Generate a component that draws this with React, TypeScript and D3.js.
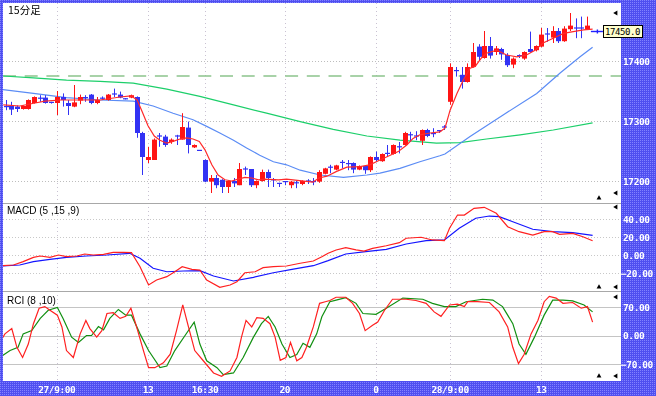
import { useEffect, useRef } from "react";
import * as d3 from "d3";

const W = 656;
const H = 396;
const PL = 3;
const PR = 621;
const PANELS = {
  main: { top: 3, bottom: 203 },
  macd: { top: 203, bottom: 291 },
  rci: { top: 291, bottom: 381 },
};

// 15 min candles, [open, high, low, close]
const candles: number[][] = [
  [17325, 17335, 17318, 17323], [17325, 17332, 17310, 17319], [17324, 17326, 17315, 17320],
  [17320, 17326, 17319, 17325], [17320, 17336, 17319, 17335], [17330, 17341, 17329, 17340],
  [17339, 17343, 17332, 17337], [17339, 17343, 17329, 17330], [17331, 17332, 17329, 17330],
  [17330, 17350, 17310, 17340], [17340, 17346, 17324, 17335], [17330, 17335, 17310, 17325],
  [17324, 17360, 17323, 17331], [17334, 17344, 17328, 17340], [17340, 17343, 17332, 17338],
  [17344, 17345, 17328, 17330], [17330, 17340, 17328, 17335], [17339, 17341, 17335, 17337],
  [17335, 17345, 17334, 17344], [17345, 17354, 17340, 17344], [17344, 17349, 17338, 17339],
  [17337, 17338, 17336, 17336], [17339, 17344, 17338, 17343], [17340, 17341, 17272, 17280],
  [17280, 17282, 17210, 17240], [17235, 17257, 17230, 17240], [17235, 17271, 17235, 17269],
  [17275, 17280, 17257, 17273], [17274, 17277, 17257, 17260], [17265, 17271, 17262, 17269],
  [17275, 17277, 17260, 17273], [17269, 17313, 17269, 17290], [17289, 17299, 17246, 17260],
  [17256, 17261, 17255, 17260], [17251, 17251, 17250, 17250], [17235, 17236, 17198, 17199],
  [17199, 17210, 17180, 17205], [17205, 17210, 17188, 17193], [17202, 17203, 17180, 17190],
  [17190, 17201, 17180, 17200], [17200, 17205, 17190, 17196], [17193, 17230, 17193, 17220],
  [17220, 17224, 17210, 17219], [17220, 17220, 17190, 17193], [17193, 17201, 17188, 17200],
  [17200, 17219, 17199, 17215], [17215, 17219, 17190, 17205], [17202, 17205, 17190, 17201],
  [17196, 17197, 17190, 17195], [17199, 17200, 17193, 17198], [17193, 17200, 17188, 17199],
  [17197, 17200, 17188, 17196], [17195, 17201, 17193, 17200], [17200, 17203, 17195, 17199],
  [17199, 17205, 17193, 17198], [17199, 17218, 17197, 17215], [17212, 17222, 17211, 17221],
  [17224, 17227, 17213, 17222], [17219, 17227, 17218, 17226], [17231, 17235, 17221, 17230],
  [17229, 17235, 17218, 17228], [17230, 17231, 17213, 17219], [17219, 17226, 17218, 17225],
  [17225, 17226, 17212, 17218], [17218, 17241, 17215, 17240], [17240, 17249, 17232, 17235],
  [17233, 17246, 17232, 17245], [17246, 17260, 17240, 17245], [17245, 17261, 17244, 17260],
  [17257, 17265, 17246, 17256], [17260, 17282, 17259, 17280], [17277, 17282, 17265, 17276],
  [17275, 17283, 17268, 17274], [17267, 17286, 17260, 17285], [17285, 17287, 17273, 17275],
  [17279, 17288, 17273, 17278], [17284, 17285, 17280, 17283], [17290, 17293, 17285, 17289],
  [17332, 17396, 17327, 17390], [17384, 17390, 17374, 17383], [17377, 17390, 17354, 17365],
  [17365, 17396, 17364, 17390], [17390, 17430, 17389, 17415], [17424, 17428, 17400, 17407],
  [17405, 17450, 17404, 17425], [17425, 17440, 17404, 17409], [17415, 17425, 17410, 17421],
  [17420, 17422, 17402, 17411], [17410, 17413, 17390, 17393], [17394, 17406, 17388, 17404],
  [17409, 17411, 17405, 17408], [17404, 17416, 17402, 17415], [17420, 17449, 17414, 17415],
  [17418, 17426, 17416, 17425], [17424, 17455, 17423, 17444], [17445, 17455, 17432, 17444],
  [17439, 17458, 17430, 17450], [17450, 17455, 17430, 17433], [17433, 17458, 17432, 17454],
  [17453, 17480, 17450, 17459], [17455, 17471, 17438, 17454], [17455, 17474, 17438, 17454],
  [17453, 17474, 17452, 17459],
];

// moving averages, [bar index, price]
const maShort = [
  [-0.4, 17327], [2.5, 17325], [5.2, 17330], [6.9, 17333], [9.6, 17335], [16.6, 17335],
  [20.1, 17340], [22, 17342], [23.1, 17335], [24, 17315], [25, 17292], [26.1, 17275],
  [27.1, 17268], [28.3, 17263], [29.4, 17266], [30.6, 17270], [31.8, 17272], [32.9, 17270],
  [34, 17266], [35, 17252], [36.2, 17227], [37.3, 17210], [38.5, 17202], [39.7, 17200],
  [40.8, 17203], [42, 17206], [43.2, 17205], [44.4, 17202], [45.5, 17203], [47.9, 17202],
  [49.3, 17203], [53.9, 17198], [55, 17205], [56.4, 17208], [58.1, 17216], [59.9, 17223],
  [62.2, 17224], [63.9, 17227], [65.7, 17235], [67.5, 17243], [68.9, 17249], [70.4, 17260],
  [71.5, 17271], [72.7, 17277], [74.5, 17280], [76.2, 17282], [77.1, 17288], [78, 17318],
  [79.2, 17346], [80.3, 17368], [81.5, 17388], [82.4, 17391], [83.5, 17405], [84.4, 17413],
  [86.2, 17418], [87.9, 17410], [89.7, 17407], [91.4, 17410], [92.9, 17418], [94.3, 17430],
  [96.1, 17438], [97.9, 17446], [99.6, 17449], [101.4, 17452], [103, 17453],
];
const maMid = [
  [-1, 17353], [4.9, 17346], [10.7, 17339], [16.6, 17335], [22.4, 17333], [25.9, 17325],
  [29.4, 17313], [32.9, 17302], [35.3, 17291], [37.6, 17280], [40, 17268], [42.3, 17255],
  [44.6, 17243], [47, 17232], [49.3, 17227], [51.7, 17218], [55.2, 17210], [59.3, 17206],
  [63.4, 17210], [65.7, 17213], [69.2, 17221], [72.7, 17232], [76.2, 17242], [77.1, 17245],
  [81.5, 17274], [87.3, 17310], [93.2, 17346], [97.3, 17380], [100.8, 17407], [103, 17423],
];
const maLong = [
  [-0.4, 17375], [4.9, 17372], [10.7, 17368], [16.6, 17366], [22.4, 17363], [28.3, 17353],
  [34.1, 17341], [40, 17327], [45.8, 17313], [51.7, 17299], [57.5, 17286], [63.4, 17275],
  [69.2, 17268], [75.6, 17263], [79.7, 17264], [84.4, 17270], [90.3, 17277], [96.1, 17285],
  [103, 17297],
];

// MACD (5,15,9)
const macdLine = [
  [-1, -11.9], [1.4, -11.1], [3.1, -7.4], [4.9, -2.6], [6.1, -1.1], [7.8, -2.6], [9.3, 0],
  [10.7, -1.9], [12.5, -1.1], [13.9, 1.1], [15.4, 0], [17.2, 0.8], [18.9, 3], [20.7, 3],
  [22.1, 2.6], [23.6, -13], [25.1, -33.3], [26.5, -27.8], [28.3, -24.1], [29.7, -18.6],
  [31, -13], [32.7, -15.9], [34.1, -16.7], [35.3, -27.8], [37.6, -35.9], [39.4, -33.3],
  [40.6, -29.7], [42, -19.7], [43.8, -18.6], [45.2, -14.1], [47, -13], [49.3, -12.2],
  [51.7, -9.2], [54, -6.7], [55.5, -1.9], [56.6, 1.9], [58, 5.6], [59.7, 8.1], [61.5, 5.6],
  [62.9, 4.4], [64.4, 7.4], [66.8, 10.3], [69.1, 13.7], [70.3, 18.6], [72.9, 19.7],
  [74.9, 16.7], [77, 15.9], [77.9, 29.7], [79.3, 44.4], [80.5, 44.4], [82.2, 51.9], [84, 53],
  [86.1, 46.3], [88.1, 31.4], [90.1, 25.9], [92.5, 22.2], [94.5, 25.9], [96, 25.9],
  [97.2, 23], [99.5, 24.1], [101.3, 20.3], [103, 15.9],
];
const macdSignal = [
  [-1, -12.2], [2.5, -11.1], [4.9, -7.4], [7.8, -4.8], [10.7, -2.6], [14.2, -1.1], [17.8, 0],
  [21.8, 1.9], [23.6, -3.7], [25.9, -14.8], [28.3, -18.6], [31.2, -17.8], [34.1, -17.4],
  [36.5, -23.3], [40, -28.9], [43.5, -24.8], [47, -19.7], [50.5, -15.6], [54, -11.9],
  [56.6, -6.3], [59.7, 1.1], [63.2, 3.7], [66.8, 6.3], [70.3, 12.2], [73.8, 15.9], [77, 16.7],
  [79.6, 29.7], [82.5, 40.8], [84.9, 43.3], [86.6, 42.6], [89, 37], [92.5, 28.6], [96, 25.9],
  [99.5, 24.8], [103, 21.9],
];

// RCI (8,10)
const rci8 = [
  [-1, -17], [-0.1, 4], [1.1, 17], [2, -29], [3, -54], [4, -21], [4.9, 29], [5.9, 67],
  [6.9, 71], [7.8, 62], [9.1, 50], [9.9, 21], [10.7, -37], [11.9, -54], [13.1, 4], [14.1, 37],
  [14.8, 17], [16, -4], [16.9, 12], [17.8, 54], [18.9, 56], [20.1, 42], [21.1, 47], [22, 67],
  [23, 21], [24.2, -37], [25.1, -79], [26.2, -79], [27.7, -67], [28.9, -46], [30, 12],
  [31.1, 75], [32.1, 21], [33.2, -37], [34.7, -62], [36.5, -92], [37.9, -100], [39.4, -87],
  [40.6, -54], [41.4, -4], [42.2, 37], [43.2, 21], [44.1, 44], [45.2, 42], [46.4, 29],
  [47.3, -4], [48.2, -61], [49.2, -54], [50, -17], [51.1, -62], [52, -54], [52.8, -29],
  [54, 21], [55.1, 79], [56.1, 83], [56.9, 86], [58, 94], [59.7, 94], [60.9, 79], [62.1, 54],
  [63.1, 12], [64.4, 25], [65.3, 33], [66.5, 62], [67.9, 89], [70.3, 89], [72, 86], [73.8, 79],
  [75.2, 58], [76.4, 47], [77.9, 75], [79.3, 77], [80.5, 71], [81.1, 83], [82.8, 83],
  [84.9, 81], [86.6, 58], [88.1, 21], [89, -29], [90, -69], [91, -46], [92.2, 4], [93.4, 37],
  [94.5, 83], [95.4, 96], [96.6, 92], [97.8, 79], [99.5, 81], [101, 67], [102.1, 71], [103, 33],
];
const rci10 = [
  [-1, -54], [0.8, -37], [2.2, -29], [3.1, 4], [4.6, 12], [6.1, 42], [7.5, 62], [9.1, 69],
  [10.1, 42], [11.6, -4], [12.8, -17], [14.2, 0], [15.1, 0], [16.3, 22], [17.2, 14], [18.3, 42],
  [19.8, 64], [21.1, 50], [22.1, 50], [23.6, 4], [25.1, -37], [27.1, -79], [28.3, -75],
  [29.7, -37], [31.5, 0], [33.1, 33], [34.1, -21], [35.3, -62], [37.1, -79], [38.2, -96],
  [40, -92], [41.7, -54], [43.5, -4], [44.9, 29], [46.1, 47], [47.3, 21], [48.5, -21],
  [49.9, -54], [51.1, -47], [52.2, -19], [53.4, -29], [54.6, 4], [55.5, 46], [56.9, 83],
  [58, 87], [59.7, 93], [61.5, 79], [62.7, 54], [65, 52], [66.8, 67], [69.7, 92], [73.2, 89],
  [74.9, 79], [77, 71], [79, 71], [80.8, 83], [83.7, 89], [85.5, 87], [87.2, 71], [89, 29],
  [90.1, -21], [91.3, -46], [92.8, -4], [94.5, 50], [96, 87], [97.8, 87], [99.5, 85],
  [101.5, 75], [103, 58],
];

const timeTickIdx = [9, 25, 35, 49, 65, 78, 94];
const timeTickLabels = ["27/9:00", "13", "16:30", "20", "0", "28/9:00", "13"];
const priceTicks = [17200, 17300, 17400];
const macdTicks = [-20, 0, 20, 40];
const rciTicks = [-70, 0, 70];
const refPrice = 17375;
const lastPrice = 17450;

const UP = "#ff1414";
const DOWN = "#3232f4";
const MONO = "'DejaVu Sans Mono', monospace";
const SANS = "'Liberation Sans', Arial, sans-serif";

export default function App() {
  const svgRef = useRef<SVGSVGElement>(null);

  useEffect(() => {
    if (!svgRef.current) return;
    const svg = d3.select(svgRef.current);
    svg.selectAll("*").remove();

    const x = d3.scaleLinear().domain([0, 102]).range([5.5, 5.5 + 5.7 * 102]);
    const yMain = d3.scaleLinear().domain([17200, 17400]).range([181, 61]);
    const yMacd = d3.scaleLinear().domain([-20, 40]).range([273, 219]);
    const yRci = d3.scaleLinear().domain([-70, 70]).range([364, 307]);

    // ── frame with dither ──────────────────────────────────────────────────
    const defs = svg.append("defs");
    const pat = defs.append("pattern").attr("id", "dither")
      .attr("width", 2).attr("height", 2).attr("patternUnits", "userSpaceOnUse");
    pat.append("rect").attr("width", 2).attr("height", 2).attr("fill", "#4f4ff0");
    pat.append("rect").attr("width", 1).attr("height", 1).attr("fill", "#8282ff");

    svg.append("rect").attr("width", W).attr("height", H).attr("fill", "url(#dither)");
    svg.append("rect")
      .attr("x", PL).attr("y", PANELS.main.top)
      .attr("width", PR - PL).attr("height", PANELS.rci.bottom - PANELS.main.top)
      .attr("fill", "#ffffff");

    Object.entries(PANELS).forEach(([k, p]) => {
      defs.append("clipPath").attr("id", `clip-${k}`)
        .append("rect").attr("x", PL).attr("y", p.top)
        .attr("width", PR - PL).attr("height", p.bottom - p.top);
    });

    // ── grid ───────────────────────────────────────────────────────────────
    const grid = svg.append("g");
    grid.selectAll("line.vg").data(timeTickIdx).join("line")
      .attr("x1", i => Math.round(x(i)) + 0.5).attr("x2", i => Math.round(x(i)) + 0.5)
      .attr("y1", PANELS.main.top).attr("y2", PANELS.rci.bottom)
      .attr("stroke", "#c9c2d2").attr("stroke-dasharray", "1,3");

    grid.selectAll("line.pg").data(priceTicks).join("line")
      .attr("x1", PL).attr("x2", PR)
      .attr("y1", d => Math.round(yMain(d)) + 0.5).attr("y2", d => Math.round(yMain(d)) + 0.5)
      .attr("stroke", "#bdbdbd").attr("stroke-dasharray", "1,2");

    grid.selectAll("line.mg").data(macdTicks).join("line")
      .attr("x1", PL).attr("x2", PR)
      .attr("y1", d => Math.round(yMacd(d)) + 0.5).attr("y2", d => Math.round(yMacd(d)) + 0.5)
      .attr("stroke", "#c8c8c8").attr("stroke-dasharray", "1,2");

    grid.selectAll("line.rg").data(rciTicks).join("line")
      .attr("x1", PL).attr("x2", PR)
      .attr("y1", d => Math.round(yRci(d)) + 0.5).attr("y2", d => Math.round(yRci(d)) + 0.5)
      .attr("stroke", "#c4c4c4");

    [PANELS.macd.top, PANELS.rci.top].forEach(yy => {
      grid.append("line").attr("x1", PL).attr("x2", PR)
        .attr("y1", yy + 0.5).attr("y2", yy + 0.5).attr("stroke", "#a8a8a8");
    });

    // reference level
    grid.append("line")
      .attr("x1", PL).attr("x2", PR)
      .attr("y1", yMain(refPrice)).attr("y2", yMain(refPrice))
      .attr("stroke", "#8cc48c").attr("stroke-width", 1.6)
      .attr("stroke-dasharray", "13,8.7");

    // ── main panel ─────────────────────────────────────────────────────────
    const gm = svg.append("g").attr("clip-path", "url(#clip-main)");
    const lineMain = d3.line<number[]>().x(d => x(d[0])).y(d => yMain(d[1]));

    gm.append("path").attr("d", lineMain(maLong)).attr("fill", "none")
      .attr("stroke", "#1ccf6a").attr("stroke-width", 1.2);
    gm.append("path").attr("d", lineMain(maMid)).attr("fill", "none")
      .attr("stroke", "#5b8cf5").attr("stroke-width", 1.2);

    const cg = gm.append("g");
    candles.forEach((d, i) => {
      const [o, h, l, c] = d;
      const col = c >= o ? UP : DOWN;
      const cx = Math.round(x(i));
      cg.append("line")
        .attr("x1", cx + 0.5).attr("x2", cx + 0.5)
        .attr("y1", yMain(h)).attr("y2", yMain(l))
        .attr("stroke", col).attr("stroke-width", 1);
      const y0 = Math.min(yMain(o), yMain(c));
      const bh = Math.abs(yMain(o) - yMain(c));
      cg.append("rect")
        .attr("x", cx - 2).attr("width", 5)
        .attr("y", bh < 1.2 ? y0 - 0.6 : y0).attr("height", Math.max(1.2, bh))
        .attr("fill", col);
    });

    gm.append("path").attr("d", lineMain(maShort)).attr("fill", "none")
      .attr("stroke", "#ff2a2a").attr("stroke-width", 1.2);

    // last price marker
    const ly = Math.round(yMain(lastPrice)) + 0.5;
    svg.append("line").attr("x1", x(102) + 4).attr("x2", x(102) + 16)
      .attr("y1", ly).attr("y2", ly).attr("stroke", "#2020ff").attr("stroke-width", 1.4);
    svg.append("line").attr("x1", x(102) + 10.5).attr("x2", x(102) + 10.5)
      .attr("y1", ly - 2).attr("y2", ly + 2).attr("stroke", "#2020ff").attr("stroke-width", 1.4);
    svg.append("rect").attr("x", 603.5).attr("y", ly - 6).attr("width", 39).attr("height", 12)
      .attr("fill", "#ffffcc").attr("stroke", "#000").attr("stroke-width", 1);
    svg.append("text").attr("x", 605).attr("y", ly + 3.5)
      .attr("font-family", MONO).attr("font-size", 9).attr("letter-spacing", -0.4)
      .attr("fill", "#000").text(d3.format(".1f")(lastPrice));

    // ── MACD ──────────────────────────────────────────────────────────────
    const gmac = svg.append("g").attr("clip-path", "url(#clip-macd)");
    const lineMacd = d3.line<number[]>().x(d => x(d[0])).y(d => yMacd(d[1]));
    gmac.append("path").attr("d", lineMacd(macdSignal)).attr("fill", "none")
      .attr("stroke", "#1414ff").attr("stroke-width", 1.2);
    gmac.append("path").attr("d", lineMacd(macdLine)).attr("fill", "none")
      .attr("stroke", "#ff2020").attr("stroke-width", 1.2);

    // ── RCI ───────────────────────────────────────────────────────────────
    const grc = svg.append("g").attr("clip-path", "url(#clip-rci)");
    const lineRci = d3.line<number[]>().x(d => x(d[0])).y(d => yRci(d[1]));
    grc.append("path").attr("d", lineRci(rci10)).attr("fill", "none")
      .attr("stroke", "#129012").attr("stroke-width", 1.2);
    grc.append("path").attr("d", lineRci(rci8)).attr("fill", "none")
      .attr("stroke", "#ff2020").attr("stroke-width", 1.2);

    // ── axis labels ───────────────────────────────────────────────────────
    const axisText = (sel: any) => sel
      .attr("font-family", MONO).attr("font-size", 9.5).attr("font-weight", "bold")
      .attr("letter-spacing", -0.4).attr("fill", "#ffffff");

    svg.selectAll("text.pt").data(priceTicks).join("text")
      .attr("x", 623).attr("y", d => yMain(d) + 3.5).call(axisText).text(d => d);
    svg.selectAll("text.mt").data(macdTicks).join("text")
      .attr("x", d => (d < 0 ? 621 : 623)).attr("y", d => yMacd(d) + 3.5)
      .call(axisText).text(d => d3.format(".2f")(d));
    svg.selectAll("text.rt").data(rciTicks).join("text")
      .attr("x", d => (d < 0 ? 621 : 623)).attr("y", d => yRci(d) + 3.5)
      .call(axisText).text(d => d3.format(".2f")(d));
    svg.selectAll("text.tt").data(timeTickIdx).join("text")
      .attr("x", i => x(i)).attr("y", 393).attr("text-anchor", "middle")
      .call(axisText).text((_, k) => timeTickLabels[k]);

    // ── panel titles ──────────────────────────────────────────────────────
    svg.append("text").attr("x", 8).attr("y", 14)
      .attr("font-family", "'Noto Sans CJK JP', sans-serif").attr("font-size", 10.5)
      .attr("fill", "#000").text("15分足");
    svg.append("text").attr("x", 7).attr("y", 214)
      .attr("font-family", SANS).attr("font-size", 10).attr("fill", "#000")
      .text("MACD (5 ,15 ,9)");
    svg.append("text").attr("x", 7).attr("y", 303.5)
      .attr("font-family", SANS).attr("font-size", 10).attr("fill", "#000")
      .text("RCI (8 ,10)");

    // ── scroll markers ────────────────────────────────────────────────────
    const tri = d3.symbol(d3.symbolTriangle, 10);
    const left = (yy: number) => svg.append("path").attr("d", tri())
      .attr("transform", `translate(616,${yy}) rotate(-90)`).attr("fill", "#000");
    const up = (yy: number) => svg.append("path").attr("d", tri())
      .attr("transform", `translate(599,${yy})`).attr("fill", "#000");
    left(PANELS.main.top + 10);
    left(PANELS.main.bottom - 10); up(PANELS.main.bottom - 5);
    left(PANELS.macd.top + 4);
    left(PANELS.macd.bottom - 4); up(PANELS.macd.bottom - 4);
    left(PANELS.rci.top + 6);
    left(PANELS.rci.bottom - 5); up(PANELS.rci.bottom - 5);
  }, []);

  return (
    <div style={{ position: "fixed", left: 0, top: 0 }}>
      <svg ref={svgRef} width={W} height={H} style={{ display: "block" }} />
    </div>
  );
}
